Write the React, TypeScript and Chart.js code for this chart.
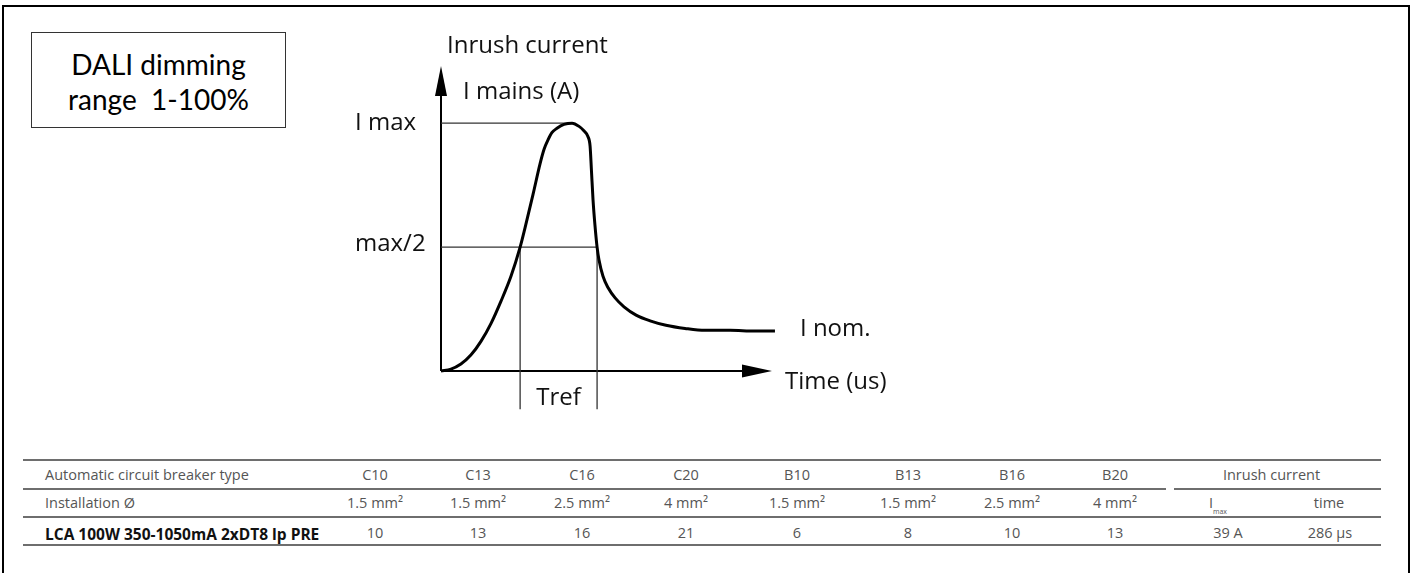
import React, { useEffect, useRef } from "react";
import { Chart, registerables } from "chart.js";

Chart.register(...registerables);

// ---- Inrush curve ----
const timeUs = [0, 37, 74, 111, 149, 186, 223, 260, 294, 312, 342, 368, 383, 398, 412, 431, 457, 487, 513, 531, 546, 554, 559, 565, 572, 580, 587, 602, 621, 647, 680, 725, 777, 836, 907, 981, 1074, 1167, 1241];
const currentA = [0, 0.3, 1.1, 2.5, 4.7, 7.5, 11.0, 14.9, 19.5, 22.5, 27.8, 32.6, 34.9, 36.4, 37.5, 38.2, 38.8, 39.0, 38.5, 37.8, 36.9, 35.4, 31.6, 26.9, 23.0, 19.5, 17.5, 14.9, 13.1, 11.5, 10.1, 8.8, 7.9, 7.2, 6.7, 6.4, 6.4, 6.3, 6.3];

const I_MAX = 39;
const I_HALF = 19.5;
const T_PEAK = 487;
const TREF_START = 294;
const TREF_END = 580;
const TREF_DROP = -6;
const T_AXIS_MAX = 1230;
const I_AXIS_MAX = 48;

const yAxisTitle = "Inrush current";
const yAxisSubtitle = "I mains (A)";
const xAxisTitle = "Time (us)";
const levelLabels = ["I max", "max/2"];
const nominalLabel = "I nom.";
const trefLabel = "Tref";

// ---- Table ----
const rowHeaders = ["Automatic circuit breaker type", "Installation Ø"];
const breakerTypes = ["C10", "C13", "C16", "C20", "B10", "B13", "B16", "B20"];
const installations = ["1.5 mm²", "1.5 mm²", "2.5 mm²", "4 mm²", "1.5 mm²", "1.5 mm²", "2.5 mm²", "4 mm²"];
const productName = "LCA 100W 350-1050mA 2xDT8 lp PRE";
const maxBreakers = [10, 13, 16, 21, 6, 8, 10, 13];
const inrushHeader = "Inrush current";
const inrushSubHeaders = ["I", "time"];
const inrushValues = ["39 A", "286 µs"];

const daliLines = ["DALI dimming", "range  1-100%"];

// layout constants
const COL_X = [375, 478, 582, 686, 797, 908, 1012, 1115];
const IMAX_X = 1222;
const TIME_X = 1329;
const ROW_Y = [475, 503, 533];
const LINE_Y = [460, 489, 517, 545];

const DIAG_FONT = '24px "Open Sans"';

const overlayPlugin = {
  id: "overlay",
  beforeDatasetsDraw(chart: any) {
    const { ctx, chartArea: a, scales } = chart;
    const xs = scales.x, ys = scales.y;
    const x0 = xs.getPixelForValue(0);
    const y0 = ys.getPixelForValue(0);
    ctx.save();
    ctx.strokeStyle = "#000";
    ctx.fillStyle = "#000";
    ctx.lineWidth = 2;
    // y axis
    ctx.beginPath();
    ctx.moveTo(x0, y0);
    ctx.lineTo(x0, a.top + 20);
    ctx.stroke();
    ctx.beginPath();
    ctx.moveTo(x0, a.top);
    ctx.lineTo(x0 - 6, a.top + 30);
    ctx.lineTo(x0 + 6, a.top + 30);
    ctx.closePath();
    ctx.fill();
    // x axis
    ctx.beginPath();
    ctx.moveTo(x0, y0);
    ctx.lineTo(a.right - 20, y0);
    ctx.stroke();
    ctx.beginPath();
    ctx.moveTo(a.right, y0);
    ctx.lineTo(a.right - 30, y0 - 6.5);
    ctx.lineTo(a.right - 30, y0 + 6.5);
    ctx.closePath();
    ctx.fill();
    ctx.restore();
  },
  afterDatasetsDraw(chart: any) {
    const { ctx, chartArea: a, scales } = chart;
    const xs = scales.x, ys = scales.y;
    const x0 = xs.getPixelForValue(0);
    const y0 = ys.getPixelForValue(0);
    ctx.save();
    ctx.fillStyle = "#111";
    ctx.font = DIAG_FONT;
    ctx.textBaseline = "middle";
    ctx.textAlign = "left";
    ctx.fillText(yAxisTitle, x0 + 6, a.top - 20);
    ctx.fillText(yAxisSubtitle, x0 + 22, a.top + 26);
    ctx.fillText(levelLabels[0], x0 - 86, ys.getPixelForValue(I_MAX));
    ctx.fillText(levelLabels[1], x0 - 86, ys.getPixelForValue(I_HALF) - 3);
    const lastT = timeUs[timeUs.length - 1];
    const lastI = currentA[currentA.length - 1];
    ctx.fillText(nominalLabel, xs.getPixelForValue(lastT) + 25, ys.getPixelForValue(lastI) - 2);
    ctx.fillText(xAxisTitle, a.right + 13, y0 + 11);
    ctx.textAlign = "center";
    const xm = (xs.getPixelForValue(TREF_START) + xs.getPixelForValue(TREF_END)) / 2;
    ctx.fillText(trefLabel, xm, y0 + 27);
    ctx.restore();
  },
};

function InrushChart() {
  const ref = useRef<HTMLCanvasElement | null>(null);
  useEffect(() => {
    if (!ref.current) return;
    const guide = { borderColor: "#333", borderWidth: 1.3, pointRadius: 0, clip: false as any, fill: false };
    const chart = new Chart(ref.current, {
      type: "scatter",
      data: {
        datasets: [
          {
            data: timeUs.map((t, i) => ({ x: t, y: currentA[i] })),
            showLine: true,
            borderColor: "#000",
            borderWidth: 3,
            pointRadius: 0,
            cubicInterpolationMode: "monotone",
            clip: false as any,
          },
          { ...guide, showLine: true, data: [{ x: 0, y: I_MAX }, { x: T_PEAK, y: I_MAX }] },
          { ...guide, showLine: true, data: [{ x: 0, y: I_HALF }, { x: TREF_END, y: I_HALF }] },
          { ...guide, showLine: true, data: [{ x: TREF_START, y: I_HALF }, { x: TREF_START, y: TREF_DROP }] },
          { ...guide, showLine: true, data: [{ x: TREF_END, y: I_HALF }, { x: TREF_END, y: TREF_DROP }] },
        ] as any,
      },
      options: {
        responsive: false,
        animation: false,
        devicePixelRatio: 1,
        layout: { padding: { left: 441, right: 1414 - 772, top: 66, bottom: 440 - 371 } },
        plugins: { legend: { display: false }, tooltip: { enabled: false } },
        scales: {
          x: { type: "linear", display: false, min: 0, max: T_AXIS_MAX },
          y: { type: "linear", display: false, min: 0, max: I_AXIS_MAX },
        },
      },
      plugins: [overlayPlugin],
    });
    return () => chart.destroy();
  }, []);
  return (
    <canvas
      ref={ref}
      width={1414}
      height={440}
      style={{ position: "absolute", left: 0, top: 0, width: 1414, height: 440 }}
    />
  );
}

const cellFont = '14.5px "Open Sans"';
const cellColor = "#555";

function Cell({ x, y, children, bold, align }: any) {
  const style: React.CSSProperties = {
    position: "absolute",
    top: y - 10,
    height: 20,
    lineHeight: "20px",
    font: bold ? 'bold 15.5px "Open Sans"' : cellFont,
    color: bold ? "#111" : cellColor,
    whiteSpace: "pre",
  };
  if (align === "left") {
    style.left = x;
  } else {
    style.left = x - 100;
    style.width = 200;
    style.textAlign = "center";
  }
  return <div style={style}>{children}</div>;
}

function Table() {
  const lines = LINE_Y.map((ly, i) => {
    if (i === 1) {
      return (
        <React.Fragment key={i}>
          <div style={{ position: "absolute", left: 23, top: ly - 1, width: 1166 - 23, height: 2, background: "#6e6e6e" }} />
          <div style={{ position: "absolute", left: 1174, top: ly - 1, width: 1381 - 1174, height: 2, background: "#6e6e6e" }} />
        </React.Fragment>
      );
    }
    return <div key={i} style={{ position: "absolute", left: 23, top: ly - 1, width: 1381 - 23, height: 2, background: "#6e6e6e" }} />;
  });
  return (
    <>
      {lines}
      <Cell x={45} y={ROW_Y[0]} align="left">{rowHeaders[0]}</Cell>
      <Cell x={45} y={ROW_Y[1]} align="left">{rowHeaders[1]}</Cell>
      <Cell x={45} y={ROW_Y[2]} align="left" bold>{productName}</Cell>
      {breakerTypes.map((b, i) => <Cell key={"b" + i} x={COL_X[i]} y={ROW_Y[0]}>{b}</Cell>)}
      {installations.map((s, i) => <Cell key={"s" + i} x={COL_X[i]} y={ROW_Y[1]}>{s}</Cell>)}
      {maxBreakers.map((v, i) => <Cell key={"v" + i} x={COL_X[i]} y={ROW_Y[2]}>{String(v)}</Cell>)}
      <Cell x={(IMAX_X + TIME_X) / 2 - 4} y={ROW_Y[0]}>{inrushHeader}</Cell>
      <Cell x={IMAX_X - 4} y={ROW_Y[1]}>
        <span>{inrushSubHeaders[0]}<sub style={{ fontSize: 7, verticalAlign: "-6px" }}>max</sub></span>
      </Cell>
      <Cell x={TIME_X} y={ROW_Y[1]}>{inrushSubHeaders[1]}</Cell>
      <Cell x={IMAX_X + 6} y={ROW_Y[2]}>{inrushValues[0]}</Cell>
      <Cell x={TIME_X + 1} y={ROW_Y[2]}>{inrushValues[1]}</Cell>
    </>
  );
}

export default function App() {
  return (
    <div style={{ position: "absolute", left: 0, top: 0, width: 1414, height: 573, overflow: "hidden", background: "#fff" }}>
      <div
        style={{
          position: "absolute",
          left: 2,
          top: 5,
          width: 1408,
          height: 620,
          boxSizing: "border-box",
          borderLeft: "2px solid #000",
          borderTop: "2px solid #000",
          borderRight: "2px solid #000",
        }}
      />
      <div
        style={{
          position: "absolute",
          left: 31,
          top: 32,
          width: 255,
          height: 96,
          boxSizing: "border-box",
          border: "1px solid #333",
          display: "flex",
          flexDirection: "column",
          alignItems: "center",
          justifyContent: "center",
          font: '28px Lato',
          lineHeight: "35px",
          paddingTop: 4,
          color: "#000",
          whiteSpace: "pre",
        }}
      >
        <div>{daliLines[0]}</div>
        <div>{daliLines[1]}</div>
      </div>
      <InrushChart />
      <Table />
    </div>
  );
}
